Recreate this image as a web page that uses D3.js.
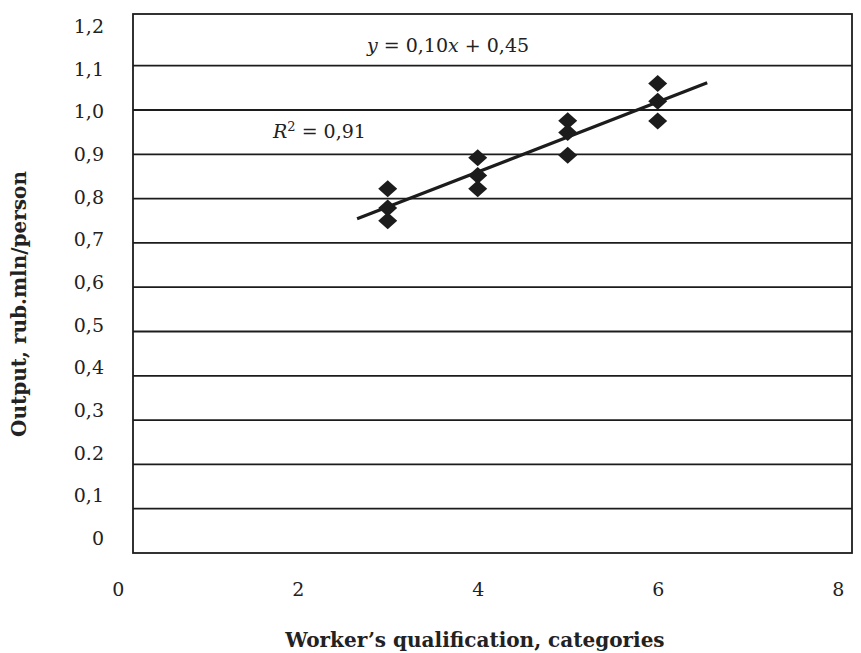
<!DOCTYPE html>
<html>
<head>
<meta charset="utf-8">
<script src="https://cdn.jsdelivr.net/npm/d3@7"></script>
<style>
  body { margin: 0; background: #fff; }
  svg { display: block; font-family: "DejaVu Serif", "Liberation Serif", serif; }
  .grid line { stroke: #1c1c1c; stroke-width: 1.8; }
  .frame { fill: none; stroke: #1c1c1c; stroke-width: 1.8; }
  .tick-label { font-size: 19px; fill: #222; }
  .axis-title { font-size: 20px; font-weight: bold; fill: #222; }
  .note { font-size: 19px; fill: #222; }
</style>
</head>
<body>
<svg id="chart" width="861" height="653"></svg>
<script>
// Qualification category of each observation
const categories = [3, 3, 3, 4, 4, 4, 5, 5, 5, 6, 6, 6];
// Output, rub. mln per person
const output = [0.822, 0.779, 0.750, 0.892, 0.852, 0.822, 0.976, 0.949, 0.898, 1.060, 1.020, 0.975];

const xTicks = [0, 2, 4, 6, 8];
const yTicks = [1.2, 1.1, 1.0, 0.9, 0.8, 0.7, 0.6, 0.5, 0.4, 0.3, 0.2, 0.1, 0];
const yTickLabels = ['1,2', '1,1', '1,0', '0,9', '0,8', '0,7', '0,6', '0,5', '0,4', '0,3', '0.2', '0,1', '0'];

// Trend line is drawn over this x range
const trendRange = [2.66, 6.55];
const equationText = { lead: 'y', mid: ' = 0,10', x: 'x', tail: ' + 0,45' };
const rSquaredText = '0,91';

const svg = d3.select('#chart');

// Scales for the marks
const xScale = d3.scaleLinear().domain([0, 8]).range([117.7, 837.7]);
const yScale = d3.scaleLinear().domain([0, 1.2]).range([553, 21.4]);
// Tick labels sit slightly off the grid in the original, keep a scale for them
const yLabelScale = d3.scaleLinear().domain([0, 1.2]).range([538, 26]);

const frame = { left: 133, right: 852, top: 14, bottom: 553 };

// Horizontal grid lines
svg.append('g')
  .attr('class', 'grid')
  .selectAll('line')
  .data(yTicks.filter((v) => v > 0 && v < 1.2))
  .join('line')
  .attr('x1', frame.left)
  .attr('x2', frame.right)
  .attr('y1', (d) => yScale(d))
  .attr('y2', (d) => yScale(d));

// Plot frame
svg.append('rect')
  .attr('class', 'frame')
  .attr('x', frame.left)
  .attr('y', frame.top)
  .attr('width', frame.right - frame.left)
  .attr('height', frame.bottom - frame.top);

// Strip d3-axis default styling so the CSS font applies
function plainAxis(g) {
  g.attr('font-family', null).attr('font-size', null);
  g.select('.domain').remove();
  g.selectAll('text')
    .attr('class', 'tick-label')
    .attr('fill', null)
    .attr('dy', '0.35em');
}

// Y tick labels
const yAxis = d3.axisLeft(yLabelScale)
  .tickValues(yTicks)
  .tickSize(0)
  .tickPadding(0)
  .tickFormat((_, i) => yTickLabels[i]);

svg.append('g')
  .attr('transform', 'translate(104,0)')
  .call(yAxis)
  .call(plainAxis);

// X tick labels
const xAxis = d3.axisBottom(xScale)
  .tickValues(xTicks)
  .tickSize(0)
  .tickPadding(0)
  .tickFormat(d3.format('d'));

svg.append('g')
  .attr('transform', 'translate(0,589)')
  .call(xAxis)
  .call(plainAxis);

// Least squares fit of the observations
const pts = categories.map((c, i) => ({ x: c, y: output[i] }));
const mx = d3.mean(pts, (d) => d.x);
const my = d3.mean(pts, (d) => d.y);
const slope = d3.sum(pts, (d) => (d.x - mx) * (d.y - my)) / d3.sum(pts, (d) => (d.x - mx) ** 2);
const intercept = my - slope * mx;

svg.append('path')
  .datum(trendRange.map((x) => ({ x, y: intercept + slope * x })))
  .attr('fill', 'none')
  .attr('stroke', '#1c1c1c')
  .attr('stroke-width', 3.2)
  .attr('d', d3.line().x((d) => xScale(d.x)).y((d) => yScale(d.y)));

// Diamond markers
const halfW = 9.5;
const halfH = 8.5;
svg.append('g')
  .selectAll('path')
  .data(pts)
  .join('path')
  .attr('fill', '#1c1c1c')
  .attr('transform', (d) => `translate(${xScale(d.x)},${yScale(d.y)})`)
  .attr('d', `M0,${-halfH}L${halfW},0L0,${halfH}L${-halfW},0Z`);

// Equation annotation
const eq = svg.append('text')
  .attr('class', 'note')
  .attr('x', 367)
  .attr('y', 52);
eq.append('tspan').attr('font-style', 'italic').text(equationText.lead);
eq.append('tspan').text(equationText.mid);
eq.append('tspan').attr('font-style', 'italic').text(equationText.x);
eq.append('tspan').text(equationText.tail);

// R squared annotation
const r2 = svg.append('text')
  .attr('class', 'note')
  .attr('x', 273)
  .attr('y', 138);
r2.append('tspan').attr('font-style', 'italic').text('R');
r2.append('tspan').attr('dy', -7).attr('font-size', 13).text('2');
r2.append('tspan').attr('dy', 7).text(` = ${rSquaredText}`);

// Axis titles
svg.append('text')
  .attr('class', 'axis-title')
  .attr('text-anchor', 'middle')
  .attr('x', 475)
  .attr('y', 647)
  .text('Worker’s qualification, categories');

svg.append('text')
  .attr('class', 'axis-title')
  .attr('text-anchor', 'middle')
  .attr('transform', 'translate(26,304) rotate(-90)')
  .text('Output, rub.mln/person');
</script>
</body>
</html>
